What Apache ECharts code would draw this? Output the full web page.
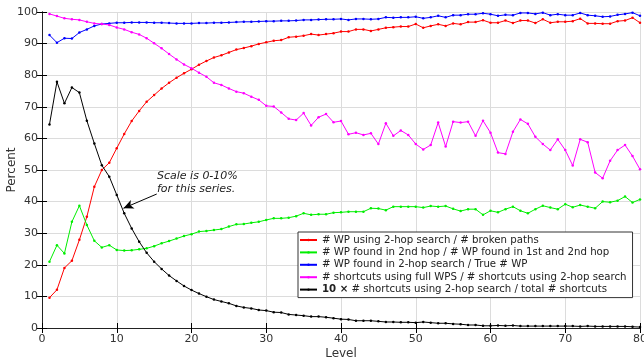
<!DOCTYPE html>
<html>
<head>
<meta charset="utf-8">
<script src="https://cdn.jsdelivr.net/npm/echarts@6.0.0/dist/echarts.min.js"></script>
<style>
  html, body {margin: 0; padding: 0; background: #fff;}
  #main {width: 644px; height: 360px;}
</style>
</head>
<body>
<div id="main"></div>
<script>
// levels on the x axis
const levels = [
  1, 2, 3, 4, 5, 6, 7, 8, 9, 10, 11, 12, 13, 14, 15, 16, 17, 18, 19, 20,
  21, 22, 23, 24, 25, 26, 27, 28, 29, 30, 31, 32, 33, 34, 35, 36, 37, 38, 39, 40,
  41, 42, 43, 44, 45, 46, 47, 48, 49, 50, 51, 52, 53, 54, 55, 56, 57, 58, 59, 60,
  61, 62, 63, 64, 65, 66, 67, 68, 69, 70, 71, 72, 73, 74, 75, 76, 77, 78, 79, 80
];

const seriesNames = [
  '# WP using 2-hop search / # broken paths',
  '# WP found in 2nd hop / # WP found in 1st and 2nd hop',
  '# WP found in 2-hop search / True # WP',
  '# shortcuts using full WPS / # shortcuts using 2-hop search',
  '10 × # shortcuts using 2-hop search / total # shortcuts'
];
const seriesColors = ['#ff0000', '#00ee00', '#0000ff', '#ff00ff', '#000000'];

const brokenPaths = [
  9.6, 12.1, 19.0, 21.3, 27.9, 35.2, 44.7, 50.0, 52.3, 56.9,
  61.4, 65.5, 68.7, 71.6, 73.7, 75.8, 77.6, 79.2, 80.6, 81.9,
  83.3, 84.5, 85.6, 86.3, 87.2, 88.1, 88.6, 89.2, 89.9, 90.4,
  90.9, 91.1, 92.0, 92.2, 92.5, 93.0, 92.7, 93.0, 93.3, 93.8,
  93.8, 94.5, 94.5, 94.0, 94.5, 95.0, 95.2, 95.4, 95.4, 96.2,
  95.0, 95.6, 96.1, 95.6, 96.4, 96.1, 96.8, 96.8, 97.4, 96.6,
  96.6, 97.3, 96.5, 97.3, 97.3, 96.5, 97.7, 96.6, 96.9, 96.9,
  97.1, 97.9, 96.4, 96.4, 96.3, 96.3, 97.1, 97.3, 98.2, 96.6
];

const secondHop = [
  21.0, 26.2, 23.6, 33.6, 38.7, 32.6, 27.6, 25.5, 26.2, 24.7,
  24.5, 24.6, 24.9, 25.2, 25.9, 26.8, 27.5, 28.3, 29.1, 29.7,
  30.5, 30.7, 31.0, 31.3, 32.1, 32.8, 32.9, 33.3, 33.6, 34.2,
  34.7, 34.7, 34.9, 35.4, 36.3, 35.8, 36.0, 36.0, 36.5, 36.6,
  36.8, 36.8, 36.8, 37.9, 37.8, 37.3, 38.4, 38.4, 38.4, 38.4,
  38.1, 38.6, 38.4, 38.6, 37.7, 37.0, 37.6, 37.6, 35.8, 37.1,
  36.6, 37.6, 38.4, 37.1, 36.3, 37.6, 38.7, 38.1, 37.6, 39.2,
  38.2, 38.9, 38.4, 37.9, 40.0, 39.8, 40.3, 41.6, 39.7, 40.7
];

const trueWP = [
  92.7, 90.3, 91.7, 91.6, 93.5, 94.5, 95.6, 96.2, 96.4, 96.6,
  96.6, 96.7, 96.7, 96.7, 96.6, 96.6, 96.5, 96.4, 96.4, 96.4,
  96.5, 96.5, 96.6, 96.6, 96.7, 96.8, 96.9, 96.9, 97.0, 97.1,
  97.1, 97.2, 97.2, 97.3, 97.5, 97.5, 97.6, 97.7, 97.7, 97.8,
  97.5, 97.8, 97.8, 97.7, 97.8, 98.3, 98.2, 98.3, 98.3, 98.5,
  98.0, 98.3, 98.8, 98.3, 99.0, 99.0, 99.3, 99.3, 99.6, 99.3,
  98.8, 99.1, 99.0, 99.7, 99.7, 99.4, 99.8, 99.0, 99.3, 99.0,
  99.0, 99.7, 99.0, 98.8, 98.5, 98.6, 99.1, 99.4, 99.8, 98.8
];

const fullWPS = [
  99.4, 98.7, 98.0, 97.7, 97.5, 96.9, 96.4, 96.2, 95.9, 95.1,
  94.5, 93.6, 92.9, 91.7, 90.1, 88.5, 86.7, 85.0, 83.4, 82.2,
  80.8, 79.5, 77.6, 76.9, 75.8, 74.8, 74.3, 73.2, 72.2, 70.3,
  70.1, 68.2, 66.2, 65.8, 68.0, 64.1, 66.7, 67.7, 65.1, 65.5,
  61.3, 61.8, 61.1, 61.6, 58.2, 64.8, 60.8, 62.5, 61.1, 58.2,
  56.5, 57.9, 65.0, 57.4, 65.3, 65.0, 65.3, 60.8, 65.6, 61.8,
  55.5, 55.1, 62.1, 66.0, 64.6, 60.5, 58.2, 56.3, 59.7, 56.3,
  51.4, 59.7, 58.8, 49.2, 47.4, 52.9, 56.3, 57.9, 54.4, 50.2
];

// already plotted at 10x (scale is 0-10% for this series)
const shortcutsTimes10 = [
  64.4, 77.9, 71.1, 76.1, 74.5, 65.6, 58.4, 51.5, 47.9, 42.1,
  36.3, 31.5, 27.3, 23.8, 21.0, 18.7, 16.6, 14.9, 13.3, 12.0,
  10.9, 9.9, 9.0, 8.4, 7.8, 7.0, 6.5, 6.2, 5.7, 5.5,
  5.0, 4.9, 4.3, 4.1, 3.9, 3.6, 3.6, 3.4, 3.1, 2.8,
  2.7, 2.3, 2.3, 2.3, 2.1, 1.9, 1.9, 1.8, 1.8, 1.7,
  1.9, 1.7, 1.5, 1.5, 1.3, 1.2, 0.95, 0.95, 0.7, 0.7,
  0.8, 0.7, 0.8, 0.6, 0.6, 0.6, 0.6, 0.6, 0.6, 0.6,
  0.6, 0.5, 0.6, 0.5, 0.5, 0.5, 0.5, 0.5, 0.4, 0.3
];

const allValues = [brokenPaths, secondHop, trueWP, fullWPS, shortcutsTimes10];
const xTicks = {min: 0, max: 80, interval: 10};
const yTicks = {min: 0, max: 100, interval: 10};

const font = 'DejaVu Sans';
const chart = echarts.init(document.getElementById('main'), null, {renderer: 'canvas'});

const series = allValues.map((vals, i) => ({
  name: seriesNames[i],
  type: 'line',
  data: vals.map((v, j) => [levels[j], v]),
  symbol: 'circle',
  symbolSize: 2.5,
  showSymbol: true,
  color: seriesColors[i],
  lineStyle: {width: 1, color: seriesColors[i]},
  itemStyle: {color: seriesColors[i]},
  emphasis: {disabled: true},
  z: 2 + i
}));

// arrow pointing at the black curve
series[4].markLine = {
  silent: true,
  symbol: ['none', 'arrow'],
  symbolSize: [7, 10],
  label: {show: false},
  lineStyle: {color: '#000', width: 1, type: 'solid'},
  data: [[{coord: [15.35, 42.4]}, {coord: [10.9, 37.9]}]]
};

const tickStyle = {show: true, inside: true, length: 5, lineStyle: {color: '#000', width: 1}};
const axisLine = {show: true, lineStyle: {color: '#222', width: 1}};

chart.setOption({
  animation: false,
  textStyle: {fontFamily: font},
  grid: {left: 42, right: 4, top: 12, bottom: 32, outerBoundsMode: 'none', containLabel: false},
  xAxis: [
    {
      type: 'value', ...xTicks, position: 'bottom',
      axisLine, axisTick: tickStyle,
      axisLabel: {color: '#333', fontSize: 11, margin: 6, fontFamily: font},
      splitLine: {show: true, lineStyle: {color: '#dcdcdc', width: 1}},
      name: 'Level', nameLocation: 'middle', nameGap: 20, nameMoveOverlap: false,
      nameTextStyle: {color: '#333', fontSize: 12, fontFamily: font}
    },
    {
      type: 'value', ...xTicks, position: 'top',
      axisLine, axisTick: tickStyle,
      axisLabel: {show: false}, splitLine: {show: false}
    }
  ],
  yAxis: [
    {
      type: 'value', ...yTicks, position: 'left',
      axisLine, axisTick: tickStyle,
      axisLabel: {color: '#333', fontSize: 11, margin: 4, fontFamily: font},
      splitLine: {show: true, lineStyle: {color: '#dcdcdc', width: 1}},
      name: 'Percent', nameLocation: 'middle', nameGap: 24, nameMoveOverlap: false,
      nameTextStyle: {color: '#333', fontSize: 12, fontFamily: font}
    },
    {
      type: 'value', ...yTicks, position: 'right',
      axisLine, axisTick: tickStyle,
      axisLabel: {show: false}, splitLine: {show: false}
    }
  ],
  legend: {
    orient: 'vertical',
    left: 298,
    top: 232,
    padding: [3, 6, 3, 1],
    itemGap: 2.4,
    itemWidth: 17,
    itemHeight: 3,
    backgroundColor: '#fff',
    borderColor: '#333',
    borderWidth: 1,
    borderRadius: 0,
    data: seriesNames,
    textStyle: {
      fontSize: 10.2,
      color: '#222',
      fontFamily: font,
      rich: {b: {fontWeight: 'bold', fontSize: 10.2, color: '#222', fontFamily: font}}
    },
    formatter(name) {
      if (name.indexOf('10 ×') === 0) {
        return '{b|10 ×} ' + name.slice(5);
      }
      return name;
    },
    z: 10
  },
  graphic: [
    {
      type: 'text',
      left: 157,
      top: 170,
      z: 20,
      style: {
        text: 'Scale is 0-10%\nfor this series.',
        font: 'italic 11px "DejaVu Sans"',
        lineHeight: 12.5,
        fill: '#222'
      }
    }
  ],
  series: series
});
</script>
</body>
</html>
